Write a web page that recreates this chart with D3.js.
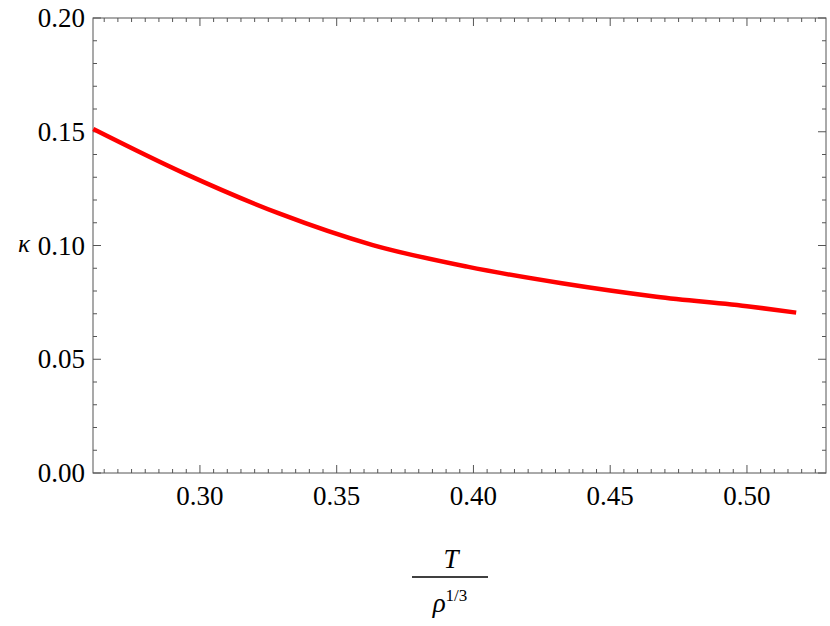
<!DOCTYPE html>
<html><head><meta charset="utf-8">
<script src="https://cdn.jsdelivr.net/npm/d3@7"></script>
<style>body{margin:0;background:#fff}</style>
</head><body><svg id="c" width="830" height="626" font-family="Liberation Serif, Times New Roman, serif"></svg>
<script>
// curve
const tVals = [0.261, 0.2943, 0.3289, 0.3632, 0.3977, 0.4323, 0.4669, 0.5015, 0.518]
const kVals = [0.1512, 0.1317, 0.1141, 0.1002, 0.0907, 0.0834, 0.0775, 0.0731, 0.0705]
const xTicks = [0.30, 0.35, 0.40, 0.45, 0.50]
const yTicks = [0.00, 0.05, 0.10, 0.15, 0.20]

const m = { left: 93, right: 826, top: 18, bottom: 473 }
const svg = d3.select('#c')
const x = d3.scaleLinear().domain([0.2609, 0.5289]).range([m.left, m.right])
const y = d3.scaleLinear().domain([0, 0.20]).range([m.bottom, m.top])

const g = svg.append('g')
g.append('rect').attr('x', m.left).attr('y', m.top)
	.attr('width', m.right - m.left).attr('height', m.bottom - m.top)
	.attr('fill', 'none').attr('stroke', '#555').attr('stroke-width', 1)

// ticks: majors and minors on all four sides, pointing in
const xMinor = d3.range(0.265, 0.529, 0.005)
const yMinor = d3.range(0, 0.2001, 0.01)
xMinor.forEach(v => {
	const major = xTicks.some(t => Math.abs(t - v) < 1e-6)
	const len = major ? 8 : 4
	g.append('line').attr('x1', x(v)).attr('x2', x(v)).attr('y1', m.bottom).attr('y2', m.bottom - len).attr('stroke', '#555')
	g.append('line').attr('x1', x(v)).attr('x2', x(v)).attr('y1', m.top).attr('y2', m.top + len).attr('stroke', '#555')
})
yMinor.forEach(v => {
	const major = yTicks.some(t => Math.abs(t - v) < 1e-6)
	const len = major ? 8 : 4
	g.append('line').attr('y1', y(v)).attr('y2', y(v)).attr('x1', m.left).attr('x2', m.left + len).attr('stroke', '#555')
	g.append('line').attr('y1', y(v)).attr('y2', y(v)).attr('x1', m.right).attr('x2', m.right - len).attr('stroke', '#555')
})
xTicks.forEach(v => g.append('text').attr('x', x(v)).attr('y', m.bottom + 32)
	.attr('text-anchor', 'middle').attr('font-size', 27).text(v.toFixed(2)))
yTicks.forEach(v => g.append('text').attr('x', m.left - 8).attr('y', y(v) + 9)
	.attr('text-anchor', 'end').attr('font-size', 27).text(v.toFixed(2)))

// curve
const pts = tVals.map((t, i) => [t, kVals[i]])
g.append('path').datum(pts).attr('fill', 'none').attr('stroke', '#f00').attr('stroke-width', 4.5)
	.attr('d', d3.line().x(d => x(d[0])).y(d => y(d[1])).curve(d3.curveMonotoneX))

// axis labels
svg.append('text').attr('x', 18).attr('y', 252).attr('font-size', 25).attr('font-style', 'italic').text('κ')
svg.append('text').attr('x', 451).attr('y', 568).attr('text-anchor', 'middle').attr('font-size', 27).attr('font-style', 'italic').text('T')
svg.append('line').attr('x1', 412).attr('x2', 488).attr('y1', 577).attr('y2', 577).attr('stroke', '#000').attr('stroke-width', 1.5)
const den = svg.append('text').attr('x', 450).attr('y', 612).attr('text-anchor', 'middle').attr('font-size', 27)
den.append('tspan').attr('font-style', 'italic').text('ρ')
den.append('tspan').attr('font-size', 17).attr('dy', -11).text('1/3')
</script></body></html>
